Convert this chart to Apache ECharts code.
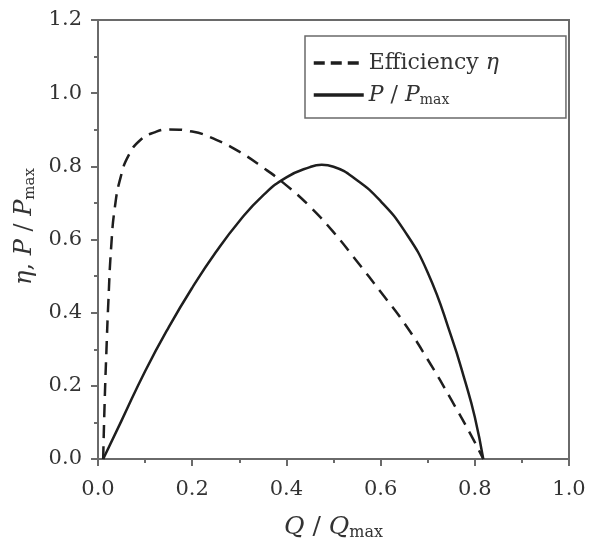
<!DOCTYPE html>
<html>
<head>
<meta charset="utf-8">
<script src="https://cdn.jsdelivr.net/npm/echarts@6/dist/echarts.min.js"></script>
<style>
  html, body { margin: 0; padding: 0; background: #fff; }
  #chart { width: 592px; height: 548px; }
</style>
</head>
<body>
<div id="chart"></div>
<script>
// efficiency eta vs Q/Qmax (dashed)
const effQ = [0.011, 0.014, 0.018, 0.022, 0.028, 0.036, 0.048, 0.065, 0.09, 0.12, 0.15, 0.2, 0.25, 0.3, 0.35, 0.4, 0.45, 0.5, 0.55, 0.6, 0.65, 0.7, 0.75, 0.79, 0.818];
const effVal = [0, 0.15, 0.3, 0.43, 0.58, 0.69, 0.77, 0.83, 0.872, 0.893, 0.901, 0.895, 0.873, 0.84, 0.797, 0.748, 0.69, 0.62, 0.54, 0.457, 0.372, 0.272, 0.162, 0.07, 0];

// P / Pmax vs Q/Qmax (solid)
const powQ = [0.011, 0.05, 0.1, 0.15, 0.2, 0.25, 0.3, 0.35, 0.4, 0.45, 0.475, 0.5, 0.55, 0.6, 0.65, 0.7, 0.75, 0.78, 0.8, 0.818];
const powVal = [0, 0.105, 0.24, 0.36, 0.468, 0.565, 0.65, 0.72, 0.77, 0.798, 0.804, 0.799, 0.762, 0.705, 0.625, 0.51, 0.335, 0.21, 0.115, 0];

const font = "DejaVu Serif";
const axisColor = "#6a6a6a";
const lineColor = "#1e1e1e";
const textColor = "#333";

const richText = {
   n: { fontFamily: font, fontSize: 22, color: textColor, lineHeight: 26 },
   i: { fontFamily: font, fontSize: 22, fontStyle: "italic", color: textColor, lineHeight: 26 },
   sub: { fontFamily: font, fontSize: 14, color: textColor, padding: [10, 0, 0, 0], lineHeight: 26 },
   bi: { fontFamily: font, fontSize: 25, fontStyle: "italic", color: textColor },
   bn: { fontFamily: font, fontSize: 25, color: textColor },
   bsub: { fontFamily: font, fontSize: 16, color: textColor, padding: [12, 0, 0, 0] },
   yi: { fontFamily: font, fontSize: 24, fontStyle: "italic", color: textColor },
   yn: { fontFamily: font, fontSize: 24, color: textColor },
   ysub: { fontFamily: font, fontSize: 15, color: textColor, padding: [11, 0, 0, 0] },
};

const chart = echarts.init(document.getElementById("chart"));

const commonAxis = {
   type: "value",
   min: 0,
   interval: 0.2,
   axisLine: { show: true, lineStyle: { color: axisColor, width: 2 } },
   axisTick: { show: true, inside: false, length: 7, lineStyle: { color: axisColor, width: 2 } },
   minorTick: { show: true, splitNumber: 2, length: 4, lineStyle: { color: axisColor, width: 2 } },
   splitLine: { show: false },
   axisLabel: {
      fontFamily: font,
      fontSize: 21,
      color: textColor,
      formatter: (v) => v.toFixed(1),
   },
};

chart.setOption({
   animation: false,
   grid: {
      left: 98,
      right: 23,
      top: 20,
      bottom: 89,
      show: true,
      borderColor: axisColor,
      borderWidth: 2,
   },
   legend: {
      orient: "vertical",
      left: 305,
      top: 36,
      padding: [16, 67, 11, 7],
      itemGap: 9,
      itemWidth: 50,
      itemHeight: 14,
      borderColor: axisColor,
      borderWidth: 1.5,
      itemStyle: { opacity: 0 },
      textStyle: { rich: richText },
      formatter: function (name) {
         if (name === "eff") return "{n|Efficiency }{i|η}";
         return "{i|P }{n|/ }{i|P}{sub|max}";
      },
      data: [
         { name: "eff", lineStyle: { width: 3.5, type: [11, 6] } },
         { name: "pow", lineStyle: { width: 3.5 } },
      ],
   },
   xAxis: {
      ...commonAxis,
      max: 1.0,
      axisLabel: { ...commonAxis.axisLabel, margin: 20 },
      name: "{bi|Q }{bn|/ }{bi|Q}{bsub|max}",
      nameLocation: "middle",
      nameGap: 54,
      nameTextStyle: { rich: richText },
   },
   yAxis: {
      ...commonAxis,
      max: 1.2,
      axisLabel: { ...commonAxis.axisLabel, margin: 16 },
      name: "{yi|η}{yn|, }{yi|P }{yn|/ }{yi|P}{ysub|max}",
      nameLocation: "middle",
      nameGap: 52,
      nameRotate: 90,
      nameTextStyle: { rich: richText, padding: [0, 0, 0, 26] },
   },
   series: [
      {
         name: "eff",
         type: "line",
         smooth: 0.5,
         showSymbol: false,
         symbol: "none",
         lineStyle: { color: lineColor, width: 2.5, type: [13, 8] },
         itemStyle: { color: lineColor },
         data: effQ.map((q, i) => [q, effVal[i]]),
      },
      {
         name: "pow",
         type: "line",
         smooth: 0.5,
         showSymbol: false,
         symbol: "none",
         lineStyle: { color: lineColor, width: 2.5 },
         itemStyle: { color: lineColor },
         data: powQ.map((q, i) => [q, powVal[i]]),
      },
   ],
});
</script>
</body>
</html>
